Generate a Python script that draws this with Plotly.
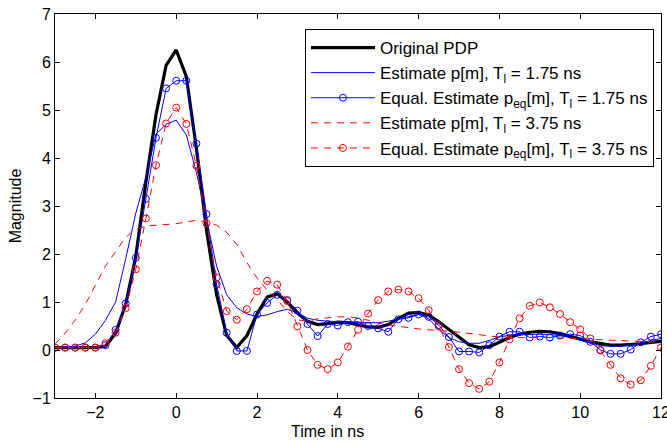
import plotly.graph_objects as go

time_ns = [-3, -2.75, -2.5, -2.25, -2, -1.75, -1.5, -1.25, -1, -0.75, -0.5, -0.25,
           0, 0.25, 0.5, 0.75, 1, 1.25, 1.5, 1.75, 2, 2.25, 2.5, 2.75,
           3, 3.25, 3.5, 3.75, 4, 4.25, 4.5, 4.75, 5, 5.25, 5.5, 5.75,
           6, 6.25, 6.5, 6.75, 7, 7.25, 7.5, 7.75, 8, 8.25, 8.5, 8.75,
           9, 9.25, 9.5, 9.75, 10, 10.25, 10.5, 10.75, 11, 11.25, 11.5, 11.75, 12]

original_pdp = [0.05, 0.05, 0.05, 0.05, 0.05, 0.08, 0.35, 0.95, 1.95, 3.5, 4.9, 5.93,
                6.25, 5.7, 4.2, 2.5, 1.15, 0.3, 0.05, 0.3, 0.75, 1.1, 1.17, 1.0,
                0.77, 0.6, 0.53, 0.55, 0.58, 0.57, 0.53, 0.48, 0.47, 0.53, 0.66, 0.77,
                0.78, 0.73, 0.59, 0.43, 0.25, 0.11, 0.05, 0.07, 0.16, 0.26, 0.33, 0.37,
                0.39, 0.38, 0.34, 0.29, 0.23, 0.17, 0.13, 0.1, 0.1, 0.11, 0.13, 0.16, 0.18]

est_175 = [0.05, 0.06, 0.08, 0.15, 0.33, 0.62, 1.0, 1.9, 2.85, 3.6, 4.5, 4.7,
           4.79, 4.48, 3.7, 2.72, 1.75, 1.15, 0.88, 0.75, 0.7, 0.73, 0.8, 0.85,
           0.77, 0.66, 0.62, 0.6, 0.59, 0.57, 0.57, 0.57, 0.57, 0.6, 0.65, 0.7,
           0.74, 0.65, 0.43, 0.26, 0.17, 0.14, 0.14, 0.2, 0.27, 0.31, 0.32, 0.33,
           0.33, 0.32, 0.3, 0.26, 0.2, 0.14, 0.09, 0.08, 0.08, 0.1, 0.14, 0.2, 0.24]

eq_175 = [0.05, 0.05, 0.05, 0.05, 0.05, 0.1, 0.42, 0.97, 1.92, 3.15, 4.42, 5.45,
          5.61, 5.61, 4.3, 2.83, 1.37, 0.36, -0.02, -0.02, 0.74, 0.98, 1.15, 1.04,
          0.82, 0.54, 0.29, 0.54, 0.51, 0.58, 0.59, 0.5, 0.45, 0.38, 0.64, 0.67,
          0.74, 0.69, 0.52, 0.27, -0.03, -0.03, -0.05, 0.1, 0.28, 0.38, 0.38, 0.26,
          0.28, 0.26, 0.3, 0.33, 0.3, 0.17, 0.0, -0.08, -0.08, 0.01, 0.16, 0.28, 0.33]

est_375 = [0.12, 0.35, 0.62, 0.95, 1.35, 1.75, 2.05, 2.35, 2.52, 2.58, 2.6, 2.62,
           2.63, 2.67, 2.7, 2.67, 2.6, 2.45, 2.2, 1.82, 1.5, 1.25, 1.05, 0.8,
           0.63, 0.6, 0.65, 0.67, 0.69, 0.69, 0.67, 0.62, 0.56, 0.52, 0.49, 0.46,
           0.44, 0.42, 0.41, 0.39, 0.37, 0.35, 0.32, 0.29, 0.27, 0.26, 0.26, 0.26,
           0.27, 0.26, 0.25, 0.24, 0.23, 0.22, 0.21, 0.2, 0.19, 0.18, 0.18, 0.17, 0.17]

eq_375 = [0.05, 0.05, 0.05, 0.05, 0.05, 0.14, 0.36, 0.87, 1.68, 2.74, 3.85, 4.72,
          5.05, 4.71, 3.84, 2.64, 1.51, 0.81, 0.63, 0.85, 1.22, 1.44, 1.36, 1.02,
          0.49, 0.0, -0.31, -0.4, -0.26, 0.07, 0.42, 0.76, 1.04, 1.22, 1.26, 1.22,
          1.08, 0.83, 0.49, 0.06, -0.4, -0.69, -0.81, -0.66, -0.26, 0.22, 0.66, 0.92,
          0.99, 0.89, 0.75, 0.58, 0.43, 0.24, -0.01, -0.31, -0.59, -0.72, -0.63, -0.33, 0.05]

names = [
    "Original PDP",
    "Estimate p[m], T<sub>l</sub> = 1.75 ns",
    "Equal. Estimate p<sub>eq</sub>[m], T<sub>l</sub> = 1.75 ns",
    "Estimate p[m], T<sub>l</sub> = 3.75 ns",
    "Equal. Estimate p<sub>eq</sub>[m], T<sub>l</sub> = 3.75 ns",
]

FONT = "Liberation Sans, Arial, Helvetica"

fig = go.Figure()
fig.add_trace(go.Scatter(x=time_ns, y=original_pdp, mode="lines", name=names[0],
                         line=dict(color="black", width=3.2)))
fig.add_trace(go.Scatter(x=time_ns, y=est_175, mode="lines", name=names[1],
                         line=dict(color="#0000ff", width=1)))
fig.add_trace(go.Scatter(x=time_ns, y=eq_175, mode="lines+markers", name=names[2],
                         line=dict(color="#0000ff", width=1),
                         marker=dict(symbol="circle-open", size=7, color="#0000ff",
                                     line=dict(width=1, color="#0000ff"))))
fig.add_trace(go.Scatter(x=time_ns, y=est_375, mode="lines", name=names[3],
                         line=dict(color="#ff0000", width=1, dash="7px,6px")))
fig.add_trace(go.Scatter(x=time_ns, y=eq_375, mode="lines+markers", name=names[4],
                         line=dict(color="#ff0000", width=1, dash="7px,6px"),
                         marker=dict(symbol="circle-open", size=7, color="#ff0000",
                                     line=dict(width=1, color="#ff0000"))))

axis_common = dict(showgrid=False, zeroline=False, showline=True, linecolor="black",
                   linewidth=1, mirror="ticks", ticks="inside", ticklen=5,
                   tickcolor="black", ticklabeloverflow="allow", automargin=False,
                   tickfont=dict(size=16, color="black", family=FONT))

fig.update_layout(
    width=667, height=444,
    margin=dict(l=55, r=6, t=14, b=46, autoexpand=False),
    plot_bgcolor="white", paper_bgcolor="white",
    font=dict(family=FONT, color="black"),
    xaxis=dict(range=[-3, 12], tickvals=[-2, 0, 2, 4, 6, 8, 10, 12], **axis_common),
    yaxis=dict(range=[-1, 7], tickvals=[-1, 0, 1, 2, 3, 4, 5, 6, 7],
               title=dict(text="Magnitude", font=dict(size=16), standoff=6),
               **axis_common),
    legend=dict(x=0.4125, y=0.961, xanchor="left", yanchor="top",
                bgcolor="white", bordercolor="black", borderwidth=1,
                font=dict(size=17, color="black"), itemwidth=64,
                tracegroupgap=0),
    showlegend=True,
    annotations=[dict(text="Time in ns", xref="paper", yref="paper",
                      x=0.45, y=-0.0885, xanchor="center", yanchor="middle",
                      showarrow=False, font=dict(size=16, color="black"))],
)

fig.write_html("out.html")
